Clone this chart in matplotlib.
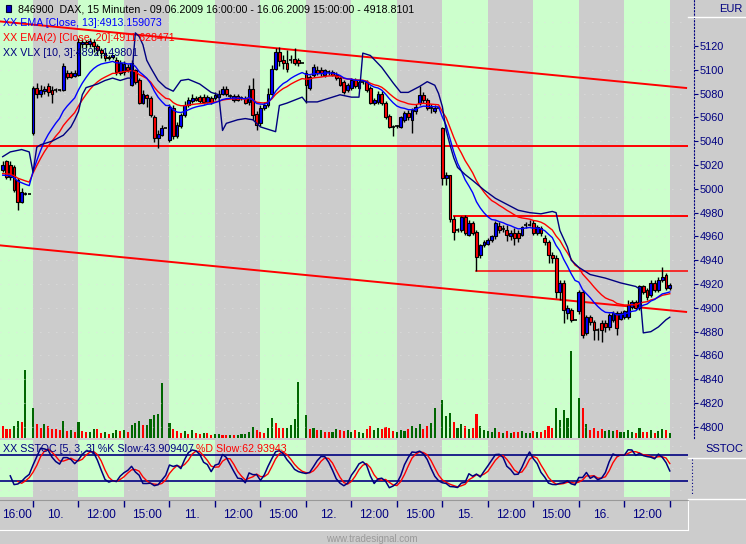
import numpy as np
import matplotlib
matplotlib.use("Agg")
import matplotlib.pyplot as plt
from matplotlib.lines import Line2D
from matplotlib.patches import Rectangle

plt.rcParams['font.family'] = ['Liberation Sans', 'DejaVu Sans']

# ---------------- data (15-minute DAX bars, 09.06.2009 16:00 .. 16.06.2009 15:00) ----------------
open_ = [5016, 5023, 5020, 5018, 5007, 4989, 4996, 4996,
         5047, 5085, 5080, 5082, 5086, 5083, 5083, 5083, 5083, 5097, 5097, 5095,
         5096, 5122, 5123, 5122, 5123, 5120, 5117, 5114, 5111, 5111, 5108, 5097,
         5098, 5102, 5087, 5100, 5091, 5072, 5079, 5076, 5060, 5043, 5045, 5051,
         5041, 5068, 5044, 5053, 5062, 5070, 5074, 5076, 5077, 5077, 5073, 5076,
         5076, 5077, 5080, 5084, 5078, 5075, 5078, 5076, 5076, 5073, 5084, 5063,
         5055, 5068, 5070, 5080, 5101, 5115, 5108, 5106, 5108, 5109, 5108, 5106,
         5097, 5085, 5096, 5100, 5100, 5096, 5098, 5098, 5096, 5093, 5090, 5083,
         5085, 5091, 5085, 5090, 5090, 5085, 5072, 5073, 5080, 5072, 5061, 5052,
         5053, 5052, 5058, 5064, 5058, 5065, 5072, 5079, 5075, 5068, 5065, 5068,
         5051, 5009, 5012, 4975, 4965, 4965, 4976, 4961, 4971, 4964, 4944, 4953,
         4954, 4957, 4960, 4969, 4966, 4965, 4960, 4963, 4963, 4961, 4970, 4970,
         4971, 4963, 4967, 4959, 4955, 4944, 4942, 4913, 4921, 4896, 4898, 4890,
         4897, 4913, 4879, 4892, 4888, 4881, 4887, 4887, 4884, 4890, 4896, 4891,
         4892, 4892, 4901, 4905, 4900, 4918, 4915, 4911, 4921, 4915, 4923, 4928,
         4917]
close = [5020, 5010, 5010, 4999, 4989, 4997, 4996, 4996,
         5085, 5080, 5083, 5084, 5081, 5080, 5083, 5083, 5103, 5094, 5094, 5097,
         5123, 5123, 5122, 5124, 5120, 5117, 5114, 5110, 5110, 5112, 5098, 5106,
         5105, 5100, 5106, 5090, 5072, 5080, 5076, 5062, 5043, 5046, 5051, 5051,
         5069, 5044, 5054, 5062, 5070, 5075, 5076, 5075, 5074, 5073, 5077, 5073,
         5079, 5080, 5084, 5080, 5078, 5078, 5075, 5076, 5072, 5084, 5062, 5054,
         5068, 5070, 5080, 5101, 5115, 5107, 5106, 5101, 5108, 5106, 5106, 5106,
         5087, 5094, 5102, 5097, 5097, 5100, 5098, 5096, 5093, 5087, 5081, 5087,
         5091, 5086, 5090, 5090, 5083, 5072, 5075, 5080, 5072, 5060, 5052, 5052,
         5053, 5060, 5064, 5060, 5066, 5069, 5079, 5075, 5068, 5068, 5068, 5068,
         5009, 5012, 4975, 4964, 4965, 4976, 4963, 4971, 4963, 4943, 4953, 4955,
         4957, 4960, 4971, 4965, 4966, 4961, 4963, 4959, 4959, 4968, 4970, 4970,
         4963, 4968, 4963, 4955, 4944, 4942, 4913, 4921, 4898, 4900, 4890, 4890,
         4913, 4877, 4892, 4888, 4881, 4881, 4881, 4884, 4894, 4896, 4883, 4896,
         4897, 4902, 4905, 4900, 4918, 4913, 4909, 4921, 4915, 4923, 4926, 4917,
         4918.8]
high = [5023, 5024, 5023, 5020, 5009, 5001, 4997, 4996,
        5086, 5089, 5087, 5086, 5089, 5086, 5085, 5084, 5106, 5100, 5099, 5100,
        5127, 5126, 5125, 5127, 5126, 5122, 5118, 5115, 5112, 5112, 5111, 5108,
        5107, 5105, 5108, 5101, 5093, 5083, 5080, 5078, 5062, 5049, 5054, 5051,
        5071, 5070, 5056, 5064, 5074, 5077, 5080, 5078, 5079, 5080, 5079, 5078,
        5081, 5083, 5086, 5086, 5080, 5080, 5080, 5078, 5078, 5087, 5093, 5065,
        5070, 5073, 5085, 5104, 5118, 5119, 5112, 5117, 5112, 5118, 5110, 5106,
        5100, 5096, 5105, 5103, 5102, 5101, 5100, 5100, 5098, 5095, 5091, 5089,
        5093, 5093, 5091, 5091, 5091, 5086, 5076, 5082, 5082, 5074, 5063, 5054,
        5054, 5061, 5065, 5066, 5068, 5071, 5086, 5081, 5076, 5071, 5070, 5068,
        5052, 5014, 5012, 4977, 4967, 4977, 4978, 4974, 4973, 4965, 4954, 4957,
        4959, 4961, 4973, 4972, 4970, 4970, 4965, 4967, 4965, 4969, 4972, 4974,
        4974, 4970, 4969, 4961, 4957, 4947, 4944, 4923, 4923, 4902, 4900, 4890,
        4915, 4915, 4894, 4894, 4890, 4883, 4890, 4890, 4896, 4897, 4897, 4897,
        4898, 4907, 4907, 4907, 4919, 4919, 4917, 4923, 4923, 4926, 4934, 4929,
        4921]
low = [5014, 5008, 5007, 4997, 4982, 4988, 4995, 4996,
       5045, 5076, 5077, 5080, 5078, 5072, 5081, 5082, 5082, 5092, 5093, 5094,
       5095, 5118, 5118, 5119, 5115, 5112, 5110, 5107, 5108, 5109, 5096, 5096,
       5096, 5098, 5086, 5088, 5071, 5071, 5069, 5060, 5039, 5034, 5044, 5051,
       5039, 5042, 5043, 5051, 5060, 5069, 5072, 5074, 5072, 5071, 5072, 5071,
       5075, 5076, 5079, 5078, 5076, 5073, 5074, 5075, 5071, 5070, 5058, 5049,
       5053, 5066, 5069, 5079, 5100, 5103, 5101, 5098, 5106, 5104, 5103, 5106,
       5072, 5083, 5094, 5096, 5095, 5094, 5096, 5095, 5091, 5086, 5080, 5081,
       5083, 5085, 5084, 5088, 5081, 5071, 5070, 5071, 5070, 5059, 5051, 5044,
       5051, 5051, 5056, 5058, 5047, 5063, 5070, 5072, 5066, 5064, 5064, 5068,
       5003, 5003, 4972, 4957, 4964, 4964, 4961, 4960, 4961, 4931, 4942, 4951,
       4953, 4955, 4958, 4963, 4964, 4956, 4957, 4953, 4955, 4960, 4967, 4969,
       4961, 4961, 4960, 4953, 4938, 4938, 4908, 4907, 4887, 4891, 4888, 4890,
       4895, 4875, 4877, 4886, 4873, 4873, 4871, 4880, 4881, 4888, 4877, 4890,
       4891, 4891, 4899, 4898, 4898, 4912, 4907, 4909, 4913, 4913, 4922, 4915,
       4915]
volume = [12, 9, 9, 12, 17, 16, 68, 0,
          30, 14, 10, 14, 12, 9, 9, 8, 17, 7, 8, 6,
          16, 7, 6, 6, 9, 9, 5, 6, 4, 5, 8, 7,
          8, 6, 13, 15, 17, 13, 13, 19, 23, 24, 55, 0,
          15, 9, 7, 5, 7, 4, 8, 5, 4, 5, 5, 3,
          4, 4, 3, 3, 3, 3, 3, 4, 4, 6, 11, 8,
          6, 5, 10, 20, 15, 10, 10, 10, 13, 19, 56, 0,
          23, 9, 10, 8, 8, 6, 6, 6, 9, 8, 7, 8,
          6, 8, 6, 5, 9, 12, 8, 10, 9, 11, 10, 7,
          6, 8, 7, 9, 12, 10, 14, 9, 12, 15, 30, 0,
          38, 22, 25, 16, 10, 14, 12, 9, 10, 24, 12, 8,
          7, 6, 10, 6, 5, 7, 5, 6, 6, 7, 5, 5,
          7, 6, 6, 8, 12, 10, 30, 18, 28, 20, 87, 0,
          40, 30, 14, 8, 10, 7, 9, 7, 8, 7, 8, 6,
          6, 8, 6, 5, 10, 6, 6, 8, 5, 7, 9, 8,
          5]
vol_up = [0, 0, 0, 1, 1, 0, 1, 1,
          1, 0, 0, 1, 0, 0, 0, 0, 1, 0, 1, 0,
          1, 0, 0, 1, 1, 0, 0, 1, 0, 1, 1, 0,
          1, 0, 1, 1, 1, 0, 1, 1, 1, 1, 1, 1,
          1, 0, 0, 0, 1, 0, 1, 0, 0, 1, 0, 0,
          1, 1, 0, 0, 1, 0, 1, 1, 1, 1, 1, 0,
          0, 0, 1, 1, 0, 0, 0, 1, 1, 1, 1, 1,
          1, 0, 1, 0, 1, 0, 0, 1, 1, 0, 0, 1,
          1, 0, 1, 1, 0, 0, 1, 1, 0, 0, 0, 0,
          1, 1, 1, 0, 1, 1, 1, 0, 0, 1, 1, 1,
          1, 1, 1, 0, 1, 1, 0, 1, 0, 0, 1, 1,
          1, 1, 1, 0, 1, 0, 1, 0, 0, 1, 1, 1,
          0, 1, 0, 0, 0, 0, 1, 1, 1, 1, 1, 1,
          1, 0, 1, 0, 0, 0, 0, 1, 1, 1, 0, 1,
          1, 1, 1, 0, 1, 0, 0, 1, 0, 1, 1, 0,
          1]

# VLX [10,3] volatility line, read at selected bars
vlx_bar = [0, 2, 5, 7, 8, 9, 10, 13, 16, 18, 19, 20, 21, 22, 25, 27, 29, 31, 33, 34,
           35, 36, 37, 38, 39, 41, 43, 45, 47, 49, 52, 55, 57,
           58, 59, 62, 64, 66, 68, 71, 72, 73, 75, 79, 80, 83, 86, 89, 92, 94,
           95, 97, 100, 103, 105, 107, 110, 112, 114, 115, 116, 117, 118, 119, 120,
           122, 124, 127, 130, 133, 136, 139, 142, 145, 146, 147, 149, 150, 152,
           155, 159, 163, 167, 168, 169, 171, 173, 175, 176]
vlx_val = [5027, 5031, 5033, 5031, 5014, 5035, 5037, 5040, 5045, 5052, 5058, 5065, 5079, 5085,
           5088, 5091, 5093, 5091, 5093, 5093,
           5131, 5128, 5121, 5108, 5102, 5091, 5085, 5082, 5091, 5092, 5088, 5081, 5079,
           5049, 5055, 5058, 5059, 5058, 5052, 5049, 5048, 5070, 5072, 5077, 5073, 5073,
           5076, 5079, 5077, 5077,
           5114, 5112, 5102, 5089, 5081, 5081, 5086, 5090, 5087, 5080, 5069, 5049, 5037,
           5026, 5018, 5012, 5007, 4999, 4992, 4987, 4982, 4980, 4979, 4981, 4980, 4965,
           4951, 4940, 4934, 4928, 4925, 4921, 4918, 4916, 4879, 4880, 4884, 4890, 4892.15]

ema13_seed, ema20_seed = 5010, 5012

# support / resistance lines: (bar, price) endpoints
trend_upper = [(-0.7, 5140.6), (180.3, 5084.7)]
trend_lower = [(-0.7, 4952.5), (180.3, 4896.6)]
hline_full = 5036
hline_a = (119, 4977.5)
hline_b = (125, 4931)

band_labels = ["16:00", "10.", "12:00", "15:00", "11.", "12:00", "15:00", "12.",
               "12:00", "15:00", "15.", "12:00", "15:00", "16.", "12:00"]

# ---------------- derived indicators ----------------
o = np.array(open_, float); c = np.array(close, float)
h = np.array(high, float); l = np.array(low, float)
n = len(c)
x = np.arange(n)

def ema(vals, period, seed):
    a = 2.0 / (period + 1)
    out = np.empty(len(vals)); prev = seed
    for i, v in enumerate(vals):
        prev = prev + a * (v - prev); out[i] = prev
    return out

ema13 = ema(c, 13, ema13_seed)
ema20 = ema(c, 20, ema20_seed)

fastk = np.full(n, np.nan)
for i in range(n):
    lo = l[max(0, i - 4):i + 1].min(); hi = h[max(0, i - 4):i + 1].max()
    fastk[i] = 100 * (c[i] - lo) / (hi - lo) if hi > lo else 50
def sma(a, p):
    out = np.full(len(a), np.nan)
    for i in range(p - 1, len(a)):
        out[i] = np.mean(a[i - p + 1:i + 1])
    return out
slowk = sma(fastk, 3)
slowd = sma(slowk, 3)

# ---------------- figure ----------------
W, H = 746, 544
BG = '#cccccc'; GREEN = '#ccffcc'; NAVY = '#000080'
FS = 7.7
fig = plt.figure(figsize=(W / 100, H / 100), dpi=100, facecolor=BG)

def frac(x0, y0, x1, y1):
    return [x0 / W, 1 - y1 / H, (x1 - x0) / W, (y1 - y0) / H]

def fx(px): return px / W
def fy(py): return 1 - py / H

XL = (-0.71, 180.8)
edges = [XL[0]] + list(range(8, 177, 12)) + [XL[1]]

def draw_bands(a):
    for k in range(len(edges) - 1):
        a.axvspan(edges[k], edges[k + 1], color=(GREEN if k % 2 == 0 else BG), lw=0, zorder=0)

# background + volume axes
axb = fig.add_axes(frac(0, 0, 688, 438))
axb.set_xlim(*XL); axb.set_ylim(0, 438)
draw_bands(axb)
vcol = ['#006600' if u else '#ff0000' for u in vol_up]
axb.bar(x, volume, width=0.55, color=vcol, lw=0, zorder=2)
axb.axis('off')

# price axes
ax = fig.add_axes(frac(0, 0, 688, 438), sharex=axb)
ax.patch.set_visible(False)
ax.set_xlim(*XL); ax.set_ylim(4790.7, 5158.6)
for p in range(4800, 5141, 20):
    ax.axhline(p, color='#e2e2e2', lw=0.8, ls=(0, (0.7, 6.5)), zorder=1)

# trend / level lines
ax.plot([p[0] for p in trend_upper], [p[1] for p in trend_upper], color='#ff0000', lw=1.4, zorder=3)
ax.plot([p[0] for p in trend_lower], [p[1] for p in trend_lower], color='#ff0000', lw=1.4, zorder=3)
ax.axhline(hline_full, color='#ff0000', lw=1.4, zorder=3)
ax.plot([hline_a[0], XL[1]], [hline_a[1]] * 2, color='#ff0000', lw=1.4, zorder=3)
ax.plot([hline_b[0], XL[1]], [hline_b[1]] * 2, color='#ff0000', lw=1.1, zorder=3)

# candles
ax.vlines(x, l, h, color='black', lw=1.0, zorder=4)
up = c > o; dn = c < o; eq = c == o
ax.bar(x[up], (c - o)[up], bottom=o[up], width=0.75, color='#0000ff', edgecolor='black', lw=0.8, zorder=5)
ax.bar(x[dn], (o - c)[dn], bottom=c[dn], width=0.75, color='#ff0000', edgecolor='black', lw=0.8, zorder=5)
ax.hlines(c[eq], x[eq] - 0.45, x[eq] + 0.45, color='black', lw=1.2, zorder=5)

# indicator lines
ax.plot(x, ema20, color='#ff0000', lw=1.0, zorder=6)
ax.plot(x, ema13, color='#0000ff', lw=1.0, zorder=6)
ax.plot(vlx_bar, vlx_val, color=NAVY, lw=1.0, zorder=6)

# right price axis
for s in ['top', 'bottom', 'left']:
    ax.spines[s].set_visible(False)
ax.spines['right'].set_position(('outward', 4))
ax.spines['right'].set_linestyle((0, (1, 2)))
ax.spines['right'].set_color(NAVY)
ax.spines['right'].set_linewidth(0.8)
ax.yaxis.tick_right()
ax.set_yticks(range(4800, 5121, 20))
ax.tick_params(axis='y', direction='out', length=3, width=0.8, color=NAVY, labelcolor=NAVY,
               labelsize=7.9, pad=1.5)
ax.tick_params(axis='x', bottom=False, labelbottom=False)

# stochastic panel
axs = fig.add_axes(frac(0, 440, 688, 497))
axs.set_xlim(*XL); axs.set_ylim(-15.5, 113.2)
draw_bands(axs)
for p in (0, 50, 100):
    axs.axhline(p, color='#e2e2e2', lw=0.8, ls=(0, (0.7, 6.5)), zorder=1)
axs.axhline(80, color=NAVY, lw=1.2, zorder=2)
axs.axhline(20, color=NAVY, lw=1.2, zorder=2)
axs.plot(x, slowd, color='#ff0000', lw=1.0, zorder=3)
axs.plot(x, slowk, color=NAVY, lw=1.1, zorder=4)
axs.set_xticks([]); axs.set_yticks([])
for s in axs.spines.values():
    s.set_visible(False)

# time axis strip
axt = fig.add_axes(frac(0, 500, 688, 530))
axt.set_facecolor(BG)
axt.set_xlim(*XL); axt.set_ylim(0, 1)
axt.set_yticks([])
axt.xaxis.tick_top()
axt.set_xticks(list(range(8, 177, 12)))
axt.tick_params(axis='x', direction='in', length=5, width=1, color=NAVY, labeltop=False, labelbottom=False)
for k, lab in enumerate(band_labels):
    axt.text((edges[k] + edges[k + 1]) / 2, 0.5, lab, ha='center', va='center', color=NAVY, fontsize=8.6)
axt.spines['top'].set_color('#999999')
axt.spines['bottom'].set_color('white')
axt.spines['right'].set_color('white')
axt.spines['left'].set_visible(False)

# header boxes on the right
fig.add_artist(Line2D([fx(688), fx(746)], [fy(16.5)] * 2, color='white', lw=1))
fig.text(fx(743), fy(8.5), 'EUR', ha='right', va='center', color=NAVY, fontsize=8)
fig.add_artist(Line2D([fx(688), fx(746)], [fy(457.5)] * 2, color='white', lw=1))
fig.add_artist(Line2D([fx(688), fx(746)], [fy(498.5)] * 2, color='white', lw=1))
fig.text(fx(743), fy(449), 'SSTOC', ha='right', va='center', color=NAVY, fontsize=8)
fig.add_artist(Line2D([fx(691.5)] * 2, [fy(459), fy(494)], color=NAVY, lw=0.8, ls=(0, (1, 2))))

# titles
fig.add_artist(Rectangle((fx(5.5), fy(11.5)), 5.5 / W, 7 / H, facecolor='#0000cc', edgecolor='#000033', lw=0.8))
fig.text(fx(18), fy(9.5), '846900  DAX, 15 Minuten - 09.06.2009 16:00:00 - 16.06.2009 15:00:00 - 4918.8101',
         color='black', fontsize=FS, va='center')
fig.text(fx(3), fy(23.5), 'XX EMA [Close, 13]:4913.159073', color='#0000ff', fontsize=FS, va='center')
fig.text(fx(3), fy(38), 'XX EMA(2) [Close, 20]:4911.628471', color='#ff0000', fontsize=FS, va='center')
fig.text(fx(3), fy(52.5), 'XX VLX [10, 3]:4892.149801', color=NAVY, fontsize=FS, va='center')
fig.text(fx(3), fy(448.5), 'XX SSTOC [5, 3, 3] %K Slow:43.909407', color=NAVY, fontsize=FS, va='center')
fig.text(fx(196), fy(448.5), '%D Slow:62.93943', color='#ff0000', fontsize=FS, va='center')
fig.text(fx(372), fy(538.5), 'www.tradesignal.com', color='#999999', fontsize=7, ha='center', va='center')

fig.savefig('out.png', dpi=100, facecolor=BG)
